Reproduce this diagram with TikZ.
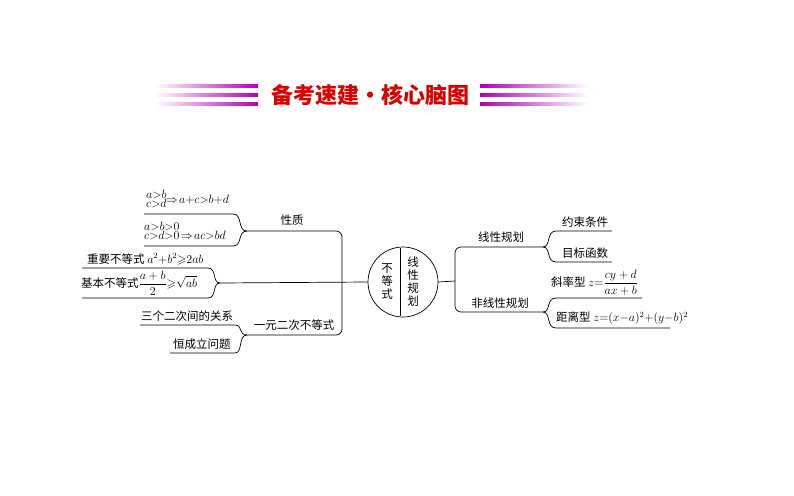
\documentclass[tikz,border=0pt]{standalone}
\usepackage{fontspec}
\usepackage{amssymb}
\newfontfamily\cjk{Noto Sans CJK SC}
\begin{document}
\begin{tikzpicture}[x=1pt,y=-1pt,
  ln/.style={line width=0.7pt,black},
  tx/.style={font=\cjk\fontsize{11.5}{13}\selectfont,inner sep=1pt},
  mt/.style={font=\fontsize{12.5}{13}\selectfont,inner sep=0pt}]
\useasboundingbox (0,0) rectangle (794,495);
% title
\node[font=\cjk\bfseries\fontsize{22}{24}\selectfont,text=red!85!black] (title) at (370,95) {备考速建・核心脑图};
\foreach \y in {86,95,104}{
  \shade[left color=white,right color=magenta!70!black] (155,\y-1.2) rectangle (258,\y+1.2);
  \shade[right color=white,left color=magenta!70!black] (480,\y-1.2) rectangle (588,\y+1.2);
}
% circle
\node[draw,ln,circle,minimum size=70pt] (c) at (403,282) {};
\draw[ln] (400,248) -- (400,316);
\node[tx,align=center] (n1) at (387,282) {不\\等\\式};
\node[tx,align=center] (n2) at (413,282) {线\\性\\规\\划};
% left coords
\coordinate (jl) at (220,283);
\coordinate (jt) at (247,231);
\coordinate (jb) at (247,335);
\draw[ln] (jl) -- (c.west);
\draw[ln,rounded corners=6pt] (jt) -- (342,231) -- (342,335) -- (jb);
\node[tx] (xz) at (292,220) {性质};
\node[tx] (yy) at (294,325) {一元二次不等式};
% properties
\coordinate (p1) at (144,214); \coordinate (p1e) at (233,214);
\coordinate (p2) at (144,246); \coordinate (p2e) at (233,246);
\draw[ln] (p1) -- (p1e) .. controls (243,214) and (237,231) .. (jt);
\draw[ln] (p2) -- (p2e) .. controls (243,246) and (237,231) .. (jt);
\node[mt,anchor=south west] (f1) at (146,212) {$\begin{array}{@{}l@{}}a{>}b\\[-4pt] c{>}d\end{array}\!\!\Rightarrow\! a{+}c{>}b{+}d$};
\node[mt,anchor=south west] (f2) at (144,244) {$\begin{array}{@{}l@{}}a{>}b{>}0\\[-4pt] c{>}d{>}0\!\Rightarrow\! ac{>}bd\end{array}$};
% inequalities
\coordinate (q1) at (82,268); \coordinate (q1e) at (208,268);
\coordinate (q2) at (82,298); \coordinate (q2e) at (208,298);
\draw[ln] (q1) -- (q1e) .. controls (217,268) and (212,283) .. (jl);
\draw[ln] (q2) -- (q2e) .. controls (217,298) and (212,283) .. (jl);
\node[tx,anchor=south west] (i1) at (86,266) {重要不等式 \fontsize{12}{13}\selectfont$a^2{+}b^2{\geqslant}2ab$};
\node[tx,anchor=south west] (i2) at (80,297) {基本不等式\fontsize{12}{13}\selectfont$\displaystyle\frac{a+b}{2}{\geqslant}\sqrt{ab}$};
% quadratic
\coordinate (r1) at (140,325); \coordinate (r1e) at (235,325);
\coordinate (r2) at (170,353); \coordinate (r2e) at (235,353);
\draw[ln] (r1) -- (r1e) .. controls (243,325) and (238,335) .. (jb);
\draw[ln] (r2) -- (r2e) .. controls (243,353) and (238,335) .. (jb);
\node[tx,anchor=south west] (s1) at (140,323) {三个二次间的关系};
\node[tx,anchor=south west] (s2) at (172,351) {恒成立问题};
% right
\coordinate (jr) at (455,281);
\coordinate (rt) at (543,247);
\coordinate (rb) at (543,312);
\draw[ln] (c.east) -- (jr);
\draw[ln,rounded corners=6pt] (rt) -- (455,247) -- (455,312) -- (rb);
\node[tx] (lp) at (501,237) {线性规划};
\node[tx] (nlp) at (500,303) {非线性规划};
\draw[ln] (rt) .. controls (551,247) and (546,231) .. (556,231) -- (612,231);
\draw[ln] (rt) .. controls (551,247) and (546,262) .. (556,262) -- (612,262);
\draw[ln] (rb) .. controls (551,312) and (546,298) .. (556,298) -- (642,298);
\draw[ln] (rb) .. controls (551,312) and (546,328) .. (556,328) -- (670,328);
\node[tx] (ys) at (585,222) {约束条件};
\node[tx] (mb) at (585,253) {目标函数};
\node[tx,anchor=south west] (xl) at (550,297) {斜率型 \fontsize{12}{13}\selectfont$z{=}\displaystyle\frac{cy+d}{ax+b}$};
\node[tx,anchor=south west] (jlx) at (555,326) {距离型 \fontsize{12}{13}\selectfont$z{=}(x{-}a)^2{+}(y{-}b)^2$};
\end{tikzpicture}
\end{document}
